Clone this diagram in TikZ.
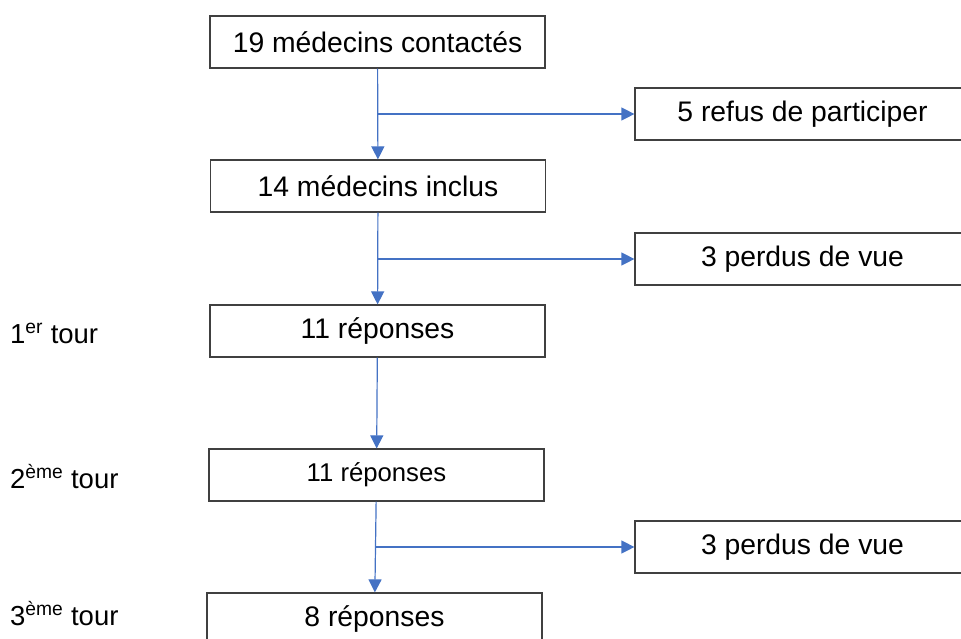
\documentclass[tikz,border=0pt]{standalone}
\usepackage{fontspec}
\setmainfont{Liberation Sans}
\usetikzlibrary{arrows.meta}
\definecolor{flowblue}{RGB}{68,114,196}
\begin{document}
\begin{tikzpicture}[x=1pt,y=-1pt,
    box/.style={draw=black!75, line width=1.2pt, minimum width=335pt, minimum height=52pt, inner sep=0pt, font=\fontsize{28.3}{32}\selectfont},
    small box/.style={box, font=\fontsize{25.7}{30}\selectfont},
    flow/.style={draw=flowblue, line width=1.2pt, -{Triangle[length=13pt,width=13pt]}},
    tour/.style={anchor=base west, inner sep=0pt, font=\fontsize{27.5}{30}\selectfont}]
    \useasboundingbox (0,0) rectangle (961,638);
    \clip (0,0) rectangle (961,638);

    \node[box] (contactes) at (377.5,42) {19 médecins contactés};
    \node[box] (inclus) at (378,186) {14 médecins inclus};
    \node[box] (tourA) at (377.5,331) {11 réponses};
    \node[small box] (tourB) at (376.5,475) {11 réponses};
    \node[box] (tourC) at (374.5,619) {8 réponses};

    \node[box] (refus) at (802.5,114) {5 refus de participer};
    \node[box] (perdusA) at (802.5,259) {3 perdus de vue};
    \node[box] (perdusB) at (802.5,547) {3 perdus de vue};

    \foreach \n/\y/\s in {1/343/er, 2/488/ème, 3/625/ème}
        \node[tour] (label\n) at (10,\y) {\n\textsuperscript{\s} tour};

    \coordinate (splitA) at (378,114);
    \coordinate (splitB) at (378,259);
    \coordinate (splitC) at (375.5,547);

    \draw[flow] (contactes) -- (inclus);
    \draw[flow] (inclus) -- (tourA);
    \draw[flow] (tourA) -- (tourB);
    \draw[flow] (tourB) -- (tourC);
    \draw[flow] (splitA) -- (refus);
    \draw[flow] (splitB) -- (perdusA);
    \draw[flow] (splitC) -- (perdusB);
\end{tikzpicture}
\end{document}
